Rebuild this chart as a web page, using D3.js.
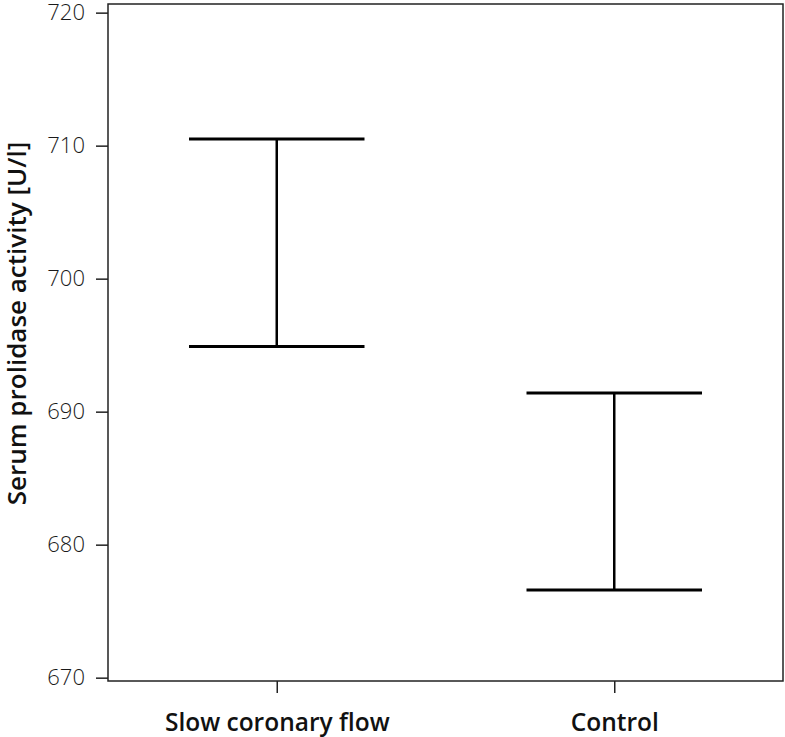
<!DOCTYPE html>
<html><head><meta charset="utf-8">
<script src="https://cdn.jsdelivr.net/npm/d3@7"></script>
<style>body{margin:0;background:#fff}</style>
</head><body>
<svg id="c" width="785" height="737"></svg>
<script>
const categories = ["Slow coronary flow", "Control"];
const lower = [694.9, 676.6];
const upper = [710.5, 691.4];
const yTicks = [670, 680, 690, 700, 710, 720];
const yTitle = "Serum prolidase activity [U/l]";

const svg = d3.select("#c");
const m = {l:108, r:783, t:4, b:681};
const x = d3.scalePoint().domain(categories).range([m.l, m.r]).padding(0.5);
const y = d3.scaleLinear().domain([669.75, 720.65]).range([m.b, m.t]);

// frame
svg.append("rect").attr("x", m.l).attr("y", m.t).attr("width", m.r-m.l).attr("height", m.b-m.t)
  .attr("fill","none").attr("stroke","#222").attr("stroke-width",1.5);

const yAx = svg.append("g").attr("transform",`translate(${m.l},0)`)
  .call(d3.axisLeft(y).tickValues(yTicks).tickSize(12).tickPadding(11).tickFormat(d3.format("d")));
yAx.select(".domain").remove();
yAx.selectAll("line").attr("stroke","#222").attr("stroke-width",1.5);
yAx.selectAll("text").attr("font-family","Open Sans").attr("font-weight",300).attr("font-size",22).attr("fill","#1a1a1a");

const xAx = svg.append("g").attr("transform",`translate(0,${m.b})`)
  .call(d3.axisBottom(x).tickSize(12).tickPadding(21));
xAx.select(".domain").remove();
xAx.selectAll("line").attr("stroke","#222").attr("stroke-width",1.5);
xAx.selectAll("text").attr("font-family","Open Sans").attr("font-weight",600).attr("font-size",24.5).attr("fill","#111");

svg.append("text").attr("transform",`translate(26,${323.5}) rotate(-90)`)
  .attr("text-anchor","middle").attr("font-family","Open Sans").attr("font-weight",600)
  .attr("font-size",26).attr("fill","#111").text(yTitle);

const capW = x.step()*0.52;
const g = svg.append("g");
categories.forEach((c,i)=>{
  const cx = x(c);
  g.append("line").attr("x1",cx).attr("x2",cx).attr("y1",y(upper[i])).attr("y2",y(lower[i]))
    .attr("stroke","#000").attr("stroke-width",2.5);
  [upper[i], lower[i]].forEach(v=>{
    g.append("line").attr("x1",cx-capW/2).attr("x2",cx+capW/2).attr("y1",y(v)).attr("y2",y(v))
      .attr("stroke","#000").attr("stroke-width",3);
  });
});
</script>
</body></html>
